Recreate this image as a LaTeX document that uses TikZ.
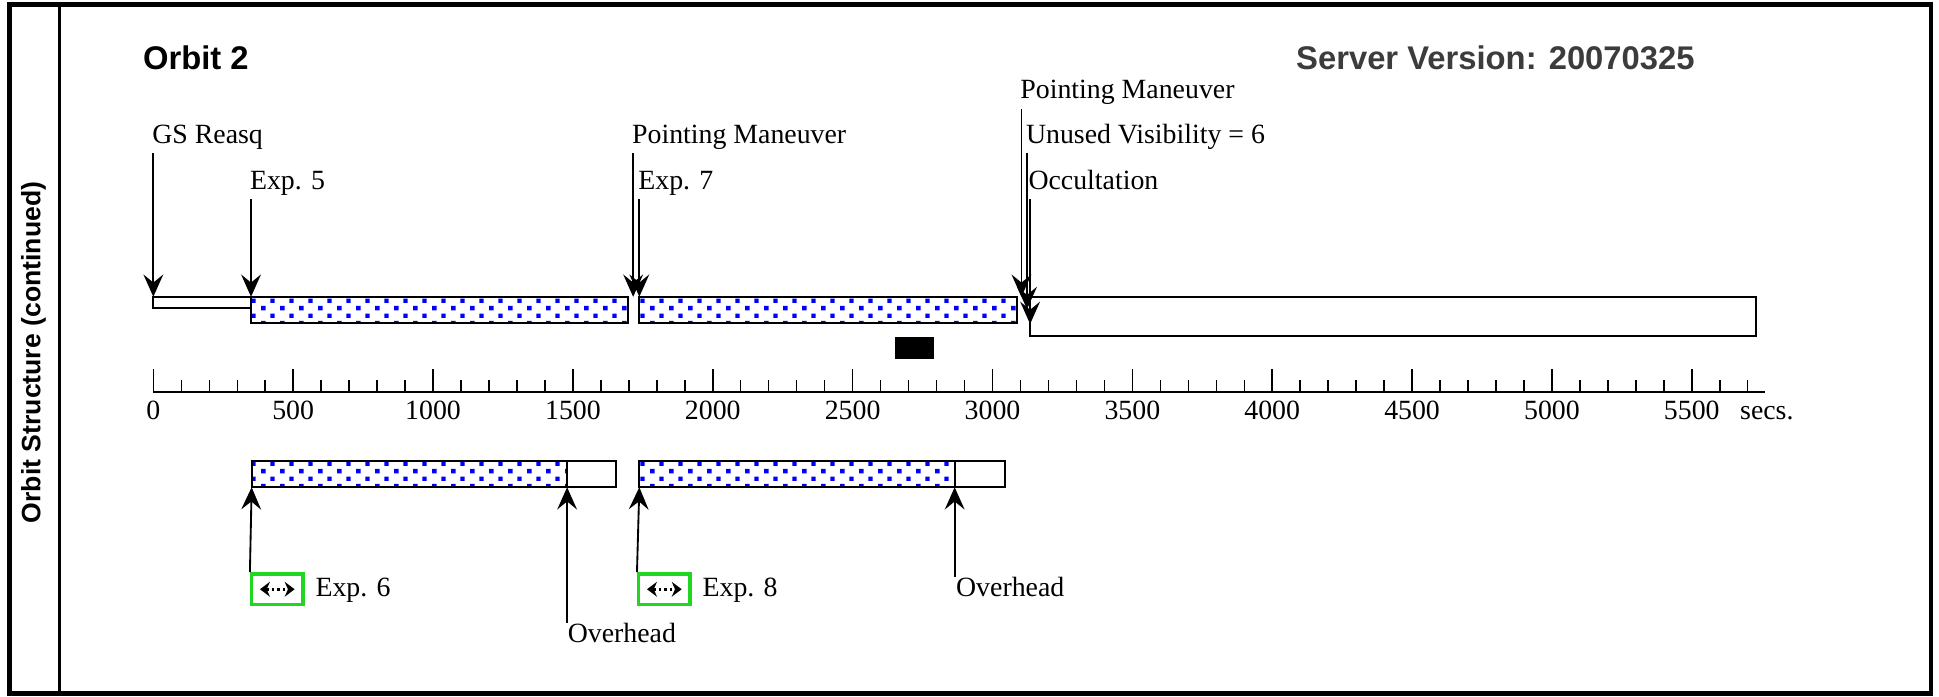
\documentclass[tikz,border=0pt]{standalone}
\usepackage{amsmath}
\usepackage{xcolor}
\usepackage{fontspec}
\setmainfont{Liberation Serif}
\newfontfamily\headfont{Liberation Sans}
\usetikzlibrary{arrows.meta,patterns.meta,calc}

\definecolor{boxgreen}{RGB}{30,215,30}
\definecolor{headgray}{RGB}{60,60,60}

\tikzdeclarepattern{
  name=expdots,
  type=uncolored,
  bottom left={(0pt,0pt)},
  top right={(15pt,12pt)},
  tile size={(15pt,12pt)},
  code={
    \pgfpathrectangle{\pgfpoint{1pt}{0.5pt}}{\pgfpoint{3.6pt}{3.6pt}}
    \pgfpathrectangle{\pgfpoint{8.5pt}{6.5pt}}{\pgfpoint{3.6pt}{3.6pt}}
    \pgfusepath{fill}
  }
}

\tikzset{
  evlabel/.style={anchor=base west,inner sep=0pt,font=\fontsize{22.5}{27}\selectfont},
  ticklabel/.style={anchor=base,inner sep=0pt,font=\fontsize{22.5}{27}\selectfont},
  evarrow/.style={line width=1.5pt,-{Stealth[length=18pt,width=16pt,inset=6.5pt]}},
  idlebar/.style={draw,line width=1.6pt,fill=white},
  expbar/.style={draw,line width=1.6pt,pattern=expdots,pattern color=blue},
  iconbox/.style={draw=boxgreen,line width=2.8pt,minimum width=41.5pt,minimum height=25pt,inner sep=0pt},
  icon/.style={line width=2.5pt,dash pattern=on 2pt off 2.5pt,{Stealth[length=8pt,width=12pt]}-{Stealth[length=8pt,width=12pt]}},
}

\begin{document}
\begin{tikzpicture}[x=1pt,y=-1pt]
\useasboundingbox (0,0) rectangle (1568,563);
\fill[white] (0,0) rectangle (1568,563);

% frame and headings
\draw[line width=4pt] (8,3.6) rectangle (1561.5,561);
\draw[line width=3pt] (48,3.6) -- (48,561);
\node[rotate=90,font=\headfont\bfseries\fontsize{21.5}{26}\selectfont] (side) at (27,285) {Orbit Structure (continued)};
\node[anchor=west,inner sep=0pt,font=\headfont\bfseries\fontsize{26.5}{30}\selectfont] (orbit) at (115.5,47) {Orbit 2};
\node[anchor=west,inner sep=0pt,text=headgray,font=\headfont\bfseries\fontsize{26.5}{30}\selectfont] (server) at (1048,47) {Server Version: 20070325};

% orbit timeline
\draw[idlebar] (124,240) rectangle (203,249);
\draw[expbar] (203,240) rectangle (508,261);
\draw[expbar] (516.5,240) rectangle (822.5,261);
\draw[idlebar] (833,240) rectangle (1420,272);
\fill (724,272.5) rectangle (755,290.5);

\coordinate (gsTip) at (124,240);
\coordinate (exp5Tip) at (203,240);
\coordinate (pmaTip) at (512,240);
\coordinate (exp7Tip) at (517,240);
\coordinate (pmbTip) at (826,240);
\coordinate (unusedTip) at (830.5,250);
\coordinate (occTip) at (833,262);

\node[evlabel] (gs) at (123,116) {GS Reasq};
\node[evlabel] (exp5) at (202,153) {Exp. 5};
\node[evlabel] (pma) at (511,116) {Pointing Maneuver};
\node[evlabel] (exp7) at (516,153) {Exp. 7};
\node[evlabel] (pmb) at (825,80) {Pointing Maneuver};
\node[evlabel] (unused) at (829.5,116) {Unused Visibility = 6};
\node[evlabel] (occ) at (831.5,153) {Occultation};

\draw[evarrow] ($(gs.base -| gsTip)+(0,8)$) -- (gsTip);
\draw[evarrow] ($(exp5.base -| exp5Tip)+(0,8)$) -- (exp5Tip);
\draw[evarrow] ($(pma.base -| pmaTip)+(0,8)$) -- (pmaTip);
\draw[evarrow] ($(exp7.base -| exp7Tip)+(0,8)$) -- (exp7Tip);
\draw[evarrow] ($(pmb.base -| pmbTip)+(0,8)$) -- (pmbTip);
\draw[evarrow] ($(unused.base -| unusedTip)+(0,8)$) -- (unusedTip);
\draw[evarrow] ($(occ.base -| occTip)+(0,8)$) -- (occTip);

% time axis
\coordinate (axis0) at (124,316.7);
\coordinate (axisEnd) at (1427,316.7);
\draw[line width=1.6pt] (axis0) -- (axisEnd);
\foreach \t in {0,100,...,5700}
  \draw[line width=1.2pt] ({124+0.2262*\t},316.7) -- ({124+0.2262*\t},307);
\foreach \t in {0,500,...,5500} {
  \draw[line width=1.2pt] ({124+0.2262*\t},316.7) -- ({124+0.2262*\t},298);
  \node[ticklabel] (lbl\t) at ({124+0.2262*\t},339) {\t};
}
\node[evlabel] (secs) at (1407,339) {secs.};

% exposures
\draw[idlebar] (203.5,373) rectangle (498,394);
\draw[expbar] (203.5,373) rectangle (458.6,394);
\draw[idlebar] (517,373) rectangle (813,394);
\draw[expbar] (517,373) rectangle (772,394);

\coordinate (exp6Tip) at (203.5,394);
\coordinate (oh6Tip) at (458.6,394);
\coordinate (exp8Tip) at (517,394);
\coordinate (oh8Tip) at (772,394);

\node[iconbox] (box6) at (224.25,476.5) {};
\node[iconbox] (box8) at (537.25,476.5) {};
\draw[icon] ($(box6.center)+(-14,0)$) -- ($(box6.center)+(14,0)$);
\draw[icon] ($(box8.center)+(-14,0)$) -- ($(box8.center)+(14,0)$);
\node[evlabel] (exp6) at (255,482.5) {Exp. 6};
\node[evlabel] (exp8) at (568,482.5) {Exp. 8};
\node[evlabel] (oh6) at (459,519.5) {Overhead};
\node[evlabel] (oh8) at (773,482.5) {Overhead};

\draw[evarrow] (box6.north west) -- (exp6Tip);
\draw[evarrow] (box8.north west) -- (exp8Tip);
\draw[evarrow] (oh6.north -| oh6Tip) -- (oh6Tip);
\draw[evarrow] (oh8.north -| oh8Tip) -- (oh8Tip);

\end{tikzpicture}
\end{document}
